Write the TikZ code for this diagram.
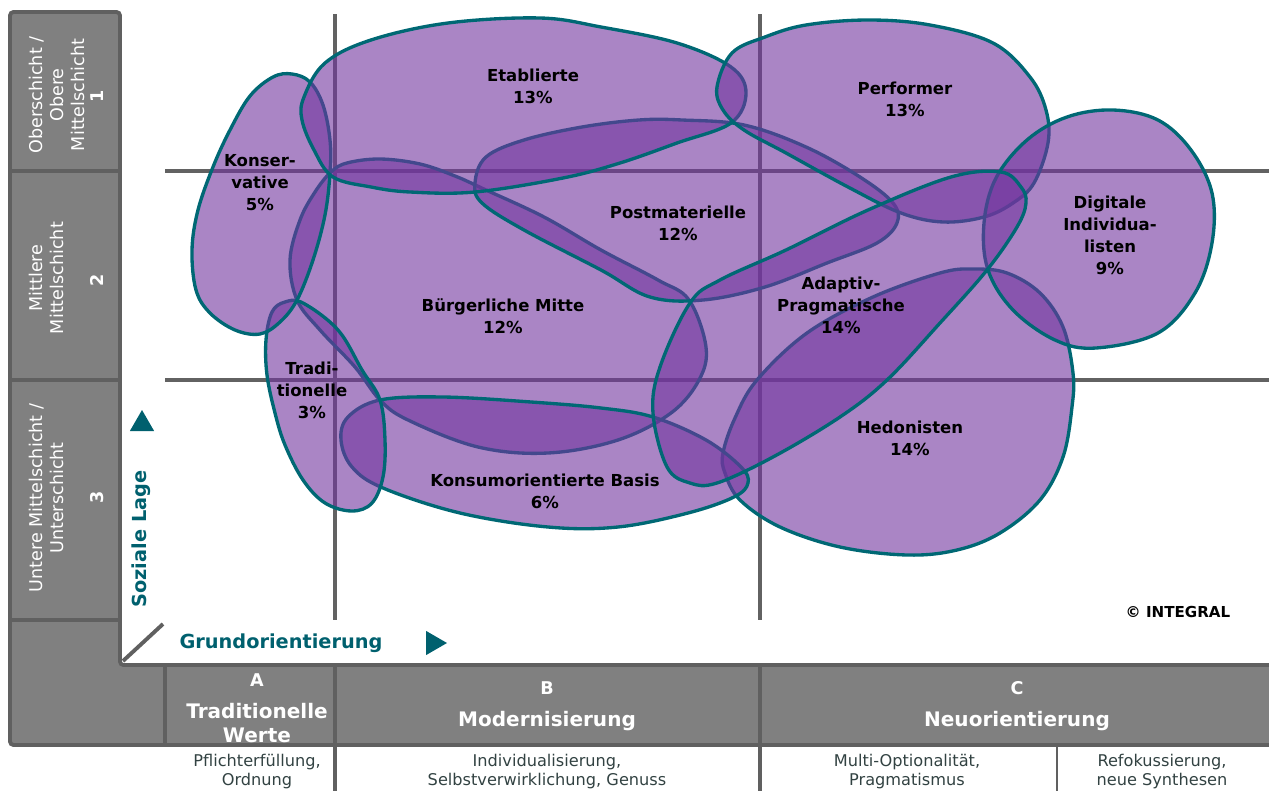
\documentclass[tikz,border=0pt]{standalone}
\usepackage{fontspec}
\usetikzlibrary{shapes.geometric}
\setmainfont{DejaVu Sans}
\definecolor{panelgray}{RGB}{128,128,128}
\definecolor{panelline}{RGB}{96,96,96}
\definecolor{gridc}{RGB}{98,98,98}
\definecolor{blobc}{RGB}{113,52,158}
\definecolor{tealc}{RGB}{0,104,116}
\definecolor{axisc}{RGB}{0,96,110}
\definecolor{descc}{RGB}{50,66,66}
\tikzset{
  blob/.style={fill=blobc, fill opacity=0.6, draw=tealc, line width=1.9pt, line join=round},
  gridline/.style={draw=gridc, line width=2.2pt},
  panelsep/.style={draw=panelline, line width=2.2pt},
  lab/.style={font=\bfseries\fontsize{9.4}{12.5}\selectfont, align=center, text=black, inner sep=0pt},
  sidelab/.style={font=\fontsize{10}{12}\selectfont, align=center, text=white, inner sep=0pt, rotate=90},
  sidenum/.style={font=\bfseries\fontsize{10}{12}\selectfont, text=white, inner sep=0pt, rotate=90},
  collet/.style={font=\bfseries\fontsize{10}{12}\selectfont, text=white, inner sep=0pt},
  colhead/.style={font=\bfseries\fontsize{11.4}{13.5}\selectfont, text=white, align=center, inner sep=0pt},
  desc/.style={font=\fontsize{9.2}{10.8}\selectfont, text=descc, align=center, inner sep=0pt},
  axislab/.style={font=\bfseries\fontsize{11}{13}\selectfont, text=axisc, inner sep=0pt},
  tri/.style={fill=axisc, isosceles triangle, isosceles triangle apex angle=60, inner sep=0pt, minimum height=0.42cm},
}
\begin{document}
\begin{tikzpicture}[x=0.02cm,y=-0.02cm]
\useasboundingbox (0,0) rectangle (1269,791);
% grid
\draw[gridline] (335,14) -- (335,620);
\draw[gridline] (760,14) -- (760,620);
\draw[gridline] (165,171) -- (1269,171);
\draw[gridline] (165,380) -- (1269,380);
% panel
\draw[fill=panelgray, draw=panelline, line width=2.2pt, rounded corners=2pt]
  (10,12) -- (120,12) -- (120,665) -- (1275,665) -- (1275,745) -- (10,745) -- cycle;
\draw[panelsep] (10,171) -- (120,171);
\draw[panelsep] (10,380) -- (120,380);
\draw[panelsep] (10,620) -- (120,620);
\draw[panelsep] (165,665) -- (165,745);
\draw[panelsep] (335,665) -- (335,791);
\draw[panelsep] (760,665) -- (760,791);
\draw[draw=panelline, line width=0.7pt] (1057,745) -- (1057,791);
\draw[panelsep] (123,661) -- (163,624);
% blobs
% Hedonisten
\path[blob] plot[smooth cycle, tension=0.6] coordinates {(723,453) (735,418) (757,380) (807,333) (873,297) (940,273) (973,269) (1007,273) (1040,293) (1063,327) (1073,373) (1072,407) (1063,457) (1040,500) (1000,533) (957,550) (907,555) (840,547) (780,527) (740,500) (725,473)};
% Buergerliche Mitte
\path[blob] plot[smooth cycle, tension=0.6] coordinates {(331,172) (347,163) (380,159) (420,164) (455,176) (486,190) (544,217) (601,250) (658,280) (689,300) (706,347) (699,380) (671,413) (618,440) (548,453) (478,447) (408,420) (380,400) (355,367) (320,330) (297,300) (290,260) (300,220) (315,192)};
% Postmaterielle
\path[blob] plot[smooth cycle, tension=0.6] coordinates {(475,183) (486,157) (524,140) (582,127) (639,120) (682,120) (744,125) (806,147) (860,177) (893,203) (897,223) (877,243) (827,263) (765,287) (703,300) (650,297) (601,270) (524,230) (482,203)};
% Konsumorientierte Basis
\path[blob] plot[smooth cycle, tension=0.6] coordinates {(341,440) (348,417) (380,400) (443,397) (531,402) (601,408) (653,417) (706,440) (741,467) (748,483) (734,497) (688,513) (618,527) (548,527) (460,513) (383,488) (352,467)};
% Traditionelle
\path[blob] plot[smooth cycle, tension=0.6] coordinates {(285,302) (303,303) (338,330) (362,370) (380,400) (385,440) (383,477) (372,503) (352,511) (325,503) (303,480) (285,445) (275,413) (267,375) (266,340) (272,312)};
% Konservative
\path[blob] plot[smooth cycle, tension=0.6] coordinates {(273,77) (292,74) (310,82) (323,105) (330,140) (330,173) (325,215) (313,260) (297,300) (280,322) (260,334) (235,330) (210,313) (196,290) (192,250) (198,210) (213,167) (230,130) (250,96)};
% Etablierte
\path[blob] plot[smooth cycle, tension=0.6] coordinates {(302,120) (304,97) (325,63) (371,40) (448,23) (540,18) (601,27) (677,43) (731,67) (746,93) (731,123) (677,143) (620,163) (563,178) (475,192) (410,192) (371,187) (333,177) (314,150)};
% Performer
\path[blob] plot[smooth cycle, tension=0.6] coordinates {(717,87) (732,53) (765,37) (806,25) (868,20) (930,25) (993,43) (1030,77) (1046,110) (1048,143) (1034,183) (1013,203) (984,217) (943,222) (901,213) (848,187) (786,153) (744,130) (723,110)};
% Digitale Individualisten
\path[blob] plot[smooth cycle, tension=0.6] coordinates {(1113,110) (1158,120) (1191,150) (1212,193) (1212,243) (1195,293) (1158,333) (1096,348) (1055,340) (1013,310) (988,270) (984,223) (996,178) (1027,140) (1067,117)};
% Adaptiv-Pragmatische
\path[blob] plot[smooth cycle, tension=0.6] coordinates {(690,303) (720,280) (786,250) (868,210) (951,177) (1001,172) (1021,187) (1026,203) (1017,227) (987,270) (940,323) (887,380) (840,417) (773,457) (717,483) (690,483) (667,467) (653,413) (660,367)};
% labels
\node[lab] (etab) at (533,86) {Etablierte\\13\%};
\node[lab] (perf) at (905,99) {Performer\\13\%};
\node[lab] (kons) at (260,183) {Konser-\\vative\\5\%};
\node[lab] (post) at (678,223) {Postmaterielle\\12\%};
\node[lab] (digi) at (1110,235) {Digitale\\Individua-\\listen\\9\%};
\node[lab] (buer) at (503,316) {Bürgerliche Mitte\\12\%};
\node[lab] (adap) at (841,305) {Adaptiv-\\Pragmatische\\14\%};
\node[lab] (trad) at (312,390) {Tradi-\\tionelle\\3\%};
\node[lab] (hedo) at (910,438) {Hedonisten\\14\%};
\node[lab] (konsum) at (545,491) {Konsumorientierte Basis\\6\%};
\node[font=\bfseries\fontsize{8.6}{10}\selectfont, inner sep=0pt] (copy) at (1178,612) {© INTEGRAL};
% axes
\node[axislab, rotate=90] (sozlage) at (141,539) {Soziale Lage};
\node[axislab] (grund) at (281,643) {Grundorientierung};
\node[tri, shape border rotate=90] (uptri) at (142,424) {};
\node[tri] (righttri) at (433,643) {};
% side labels
\node[sidelab] (r1) at (57,95) {Oberschicht /\\Obere\\Mittelschicht};
\node[sidenum] (n1) at (97,96) {1};
\node[sidelab] (r2) at (46,278) {Mittlere\\Mittelschicht};
\node[sidenum] (n2) at (97,280) {2};
\node[sidelab] (r3) at (46,498) {Untere Mittelschicht /\\Unterschicht};
\node[sidenum] (n3) at (97,497) {3};
% column headers
\node[collet] (ca) at (257,680) {A};
\node[colhead] (ha) at (257,723) {Traditionelle\\Werte};
\node[collet] (cb) at (547,688) {B};
\node[colhead] (hb) at (547,721) {Modernisierung};
\node[collet] (cc) at (1017,688) {C};
\node[colhead] (hc) at (1017,721) {Neuorientierung};
% descriptions
\node[desc] (da) at (257,772) {Pflichterfüllung,\\Ordnung};
\node[desc] (db) at (547,772) {Individualisierung,\\Selbstverwirklichung, Genuss};
\node[desc] (dc) at (907,772) {Multi-Optionalität,\\Pragmatismus};
\node[desc] (dd) at (1162,772) {Refokussierung,\\neue Synthesen};
\end{tikzpicture}
\end{document}
